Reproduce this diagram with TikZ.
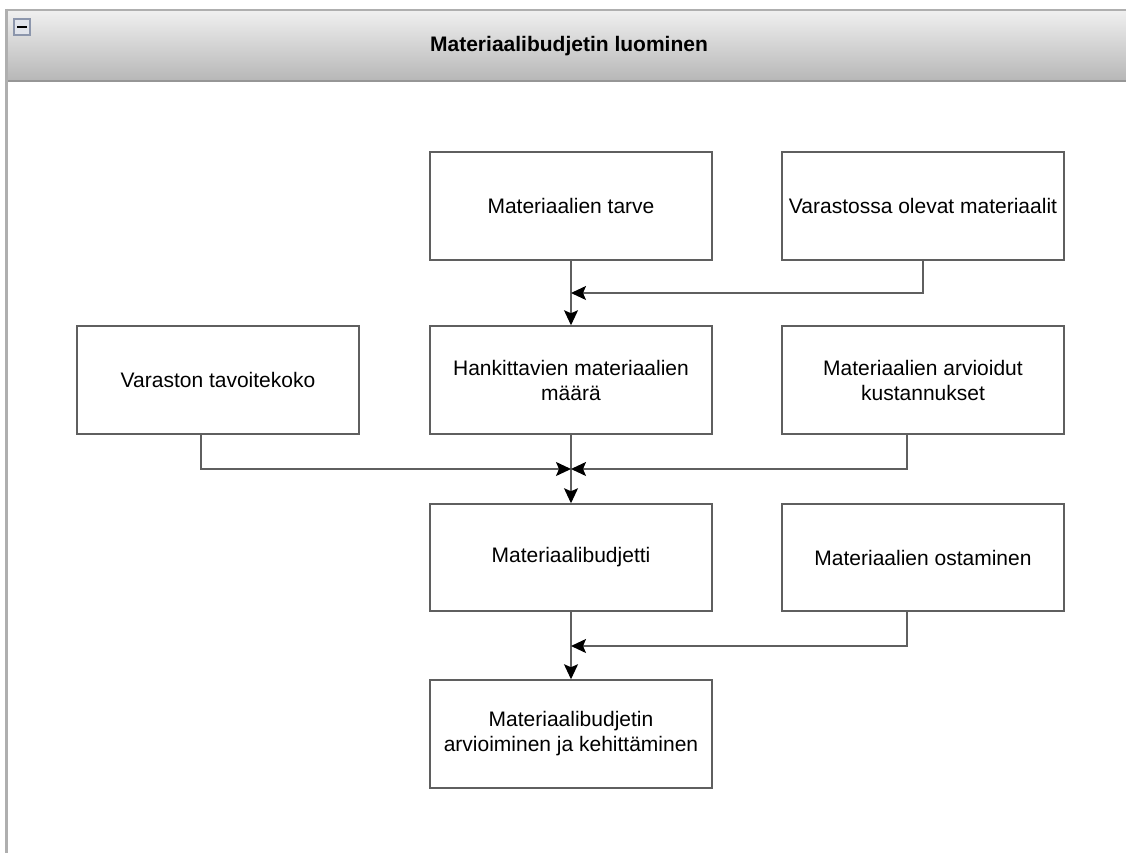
\documentclass[tikz,border=0pt]{standalone}
\usepackage{fontspec}
\setmainfont{Liberation Sans}
\usetikzlibrary{arrows.meta,calc}
\definecolor{edgegray}{RGB}{95,95,95}
\definecolor{framegray}{RGB}{175,175,175}
\definecolor{headline}{RGB}{150,150,150}
\definecolor{headtop}{RGB}{240,240,240}
\definecolor{headbot}{RGB}{182,182,182}
\definecolor{iconblue}{RGB}{140,150,172}
\definecolor{iconfill}{RGB}{225,228,235}
\begin{document}
\begin{tikzpicture}[x=1pt,y=-1pt,
  stepbox/.style={draw=edgegray, line width=1.5pt, fill=white,
    minimum width=282pt, minimum height=108pt, inner sep=0pt,
    align=center, font=\fontsize{21}{25}\selectfont},
  link/.style={draw=edgegray, line width=1.5pt,
    -{Stealth[length=15pt,width=14pt,inset=3pt,color=black]}}]
\useasboundingbox (0,0) rectangle (1126,853);
% swimlane container
\fill[white] (0,0) rectangle (1126,853);
\shade[top color=headtop, bottom color=headbot] (6,10) rectangle (1140,82);
\draw[framegray, line width=2pt] (6,10) -- (1140,10);
\draw[headline, line width=2pt] (6,81) -- (1140,81);
\draw[framegray, line width=3pt] (6,9) -- (6,860);
\node[draw=iconblue, fill=iconfill, line width=1.5pt, minimum size=16pt, inner sep=0pt] (collapse) at (22,27) {};
\draw[black, line width=2pt] ($(collapse.center)+(-5,0)$) -- ($(collapse.center)+(5,0)$);
\node[font=\bfseries\fontsize{21}{25}\selectfont] (title) at (569,46) {Materiaalibudjetin luominen};

% process boxes
\node[stepbox] (tarve)   at (571,206) {Materiaalien tarve};
\node[stepbox] (varasto) at (923,206) {Varastossa olevat materiaalit};
\node[stepbox] (tavoite) at (218,380) {Varaston tavoitekoko};
\node[stepbox] (hank)    at (571,380) {Hankittavien materiaalien\\määrä};
\node[stepbox] (arv)     at (923,380) {Materiaalien arvioidut\\kustannukset};
\node[stepbox, minimum height=107pt] (budj) at (571,557.5) {Materiaalibudjetti};
\node[stepbox, minimum height=107pt] (osto) at (923,557.5) {Materiaalien ostaminen};
\node[stepbox] (arvioi)  at (571,734) {Materiaalibudjetin\\arvioiminen ja kehittäminen};

% junction points on the main column
\coordinate (j1) at (571,293);
\coordinate (j2) at (571,469);
\coordinate (j3) at (571,646);

% connectors
\draw[link] (tarve) -- (hank);
\draw[link] (varasto.south) |- (j1);
\draw[link] (hank) -- (budj);
\draw[link] ([xshift=-17pt]tavoite.south) |- (j2);
\draw[link] ([xshift=-16pt]arv.south) |- (j2);
\draw[link] (budj) -- (arvioi);
\draw[link] ([xshift=-16pt]osto.south) |- (j3);
\end{tikzpicture}
\end{document}
